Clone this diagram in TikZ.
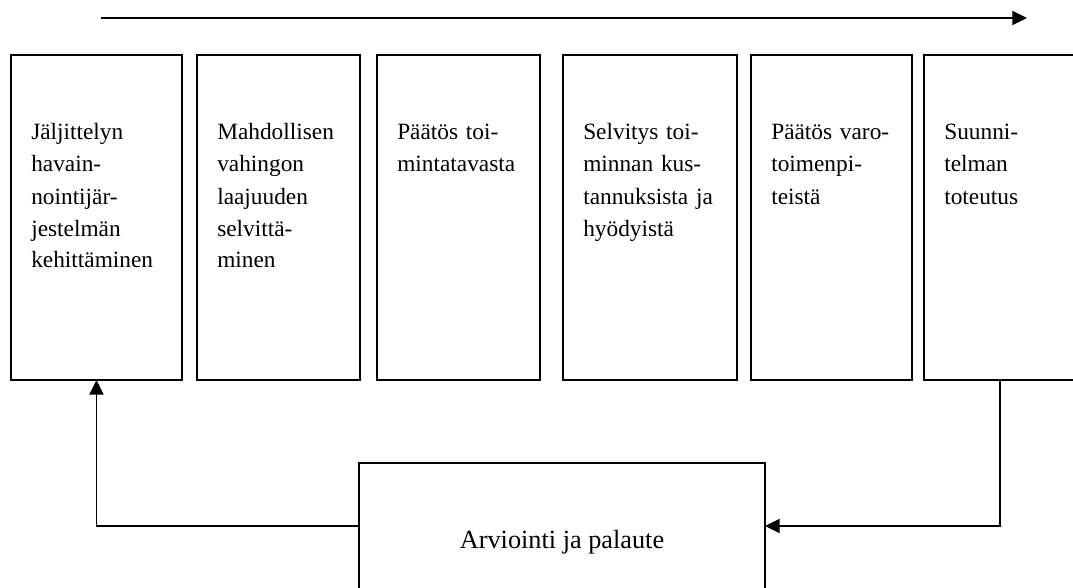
\documentclass[tikz,border=0pt]{standalone}
\usepackage{fontspec}
\setmainfont{Liberation Serif}
\usetikzlibrary{positioning,arrows.meta,calc}
\definecolor{ink}{HTML}{000000}
\newcommand{\stp}{\fontsize{17.5pt}{24pt}\selectfont}
\tikzset{
  box/.style={draw=ink, line width=1.4pt, fill=white, inner sep=0pt,
    outer sep=0pt, minimum height=243.75pt},
  fbbox/.style={draw=ink, line width=1.4pt, fill=white, inner sep=0pt,
    outer sep=0pt, minimum width=304.5pt, minimum height=118.5pt,
    font=\fontsize{19.7pt}{24pt}\selectfont, text=ink},
  arr/.style={-{Triangle[length=11pt,width=10.5pt]}, line width=1.4pt, color=ink},
  lab/.style={font=\stp, text=ink, anchor=base west, inner sep=0pt,
    text width=4cm, align=left},
}

\begin{document}
\begin{tikzpicture}[x=0.75pt,y=-0.75pt]
    \useasboundingbox (0,0) rectangle (1073,588);
    \clip (0,0) rectangle (1073,588);
    % process steps
    \node[box, minimum width=128.25pt, anchor=north west] (b1) at (11,55) {};
    \node[box, minimum width=122.25pt, right=11.25pt of b1] (b2) {};
    \node[box, minimum width=122.25pt, right=12.75pt of b2] (b3) {};
    \node[box, minimum width=130.5pt, right=17.25pt of b3] (b4) {};
    \node[box, minimum width=120.75pt, right=10.5pt of b4] (b5) {};
    \node[box, minimum width=114pt, right=9pt of b5] (b6) {};
    \tikzset{inset/.style={xshift=15pt, yshift=-63.75pt}}
    \node[lab] (t1) at ([inset]b1.north west) {Jäljittelyn\\havain-\\nointijär-\\jestelmän\\kehittäminen};
    \node[lab] (t2) at ([inset]b2.north west) {Mahdollisen\\vahingon\\laajuuden\\selvittä-\\minen};
    \node[lab] (t3) at ([inset]b3.north west) {Päätös toi-\\mintatavasta};
    \node[lab] (t4) at ([inset]b4.north west) {Selvitys toi-\\minnan kus-\\tannuksista ja\\hyödyistä};
    \node[lab] (t5) at ([inset]b5.north west) {Päätös varo-\\toimenpi-\\teistä};
    \node[lab] (t6) at ([inset]b6.north west) {Suunni-\\telman\\toteutus};
    % feedback
    \node[fbbox, anchor=north west] (fb) at (359,463) {Arviointi ja palaute};
    \draw[arr] (b6.south) |- ([yshift=12pt]fb.east);
    \draw[arr] ([yshift=12pt]fb.west) -| (b1.south);
    % time axis
    \coordinate (ts) at (101,18);
    \coordinate (te) at (1027,18);
    \draw[arr] (ts) -- (te);
  \end{tikzpicture}
\end{document}
